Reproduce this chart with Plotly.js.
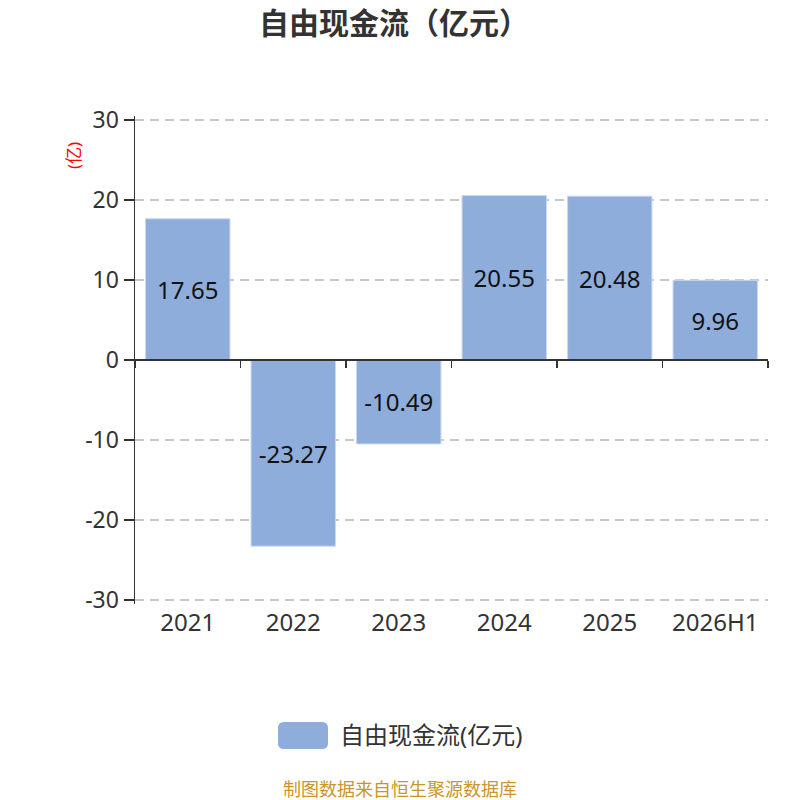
<!DOCTYPE html>
<html>
<head>
<meta charset="utf-8">
<script src="https://cdn.plot.ly/plotly-3.0.1.min.js"></script>
<style>
  html, body { margin: 0; padding: 0; background: #fff; }
  #chart { width: 800px; height: 800px; }
</style>
</head>
<body>
<div id="chart"></div>
<script>
var years = ['2021', '2022', '2023', '2024', '2025', '2026H1'];
var cashFlow = [17.65, -23.27, -10.49, 20.55, 20.48, 9.96];
var seriesName = '自由现金流(亿元)';
var yTicks = [-30, -20, -10, 0, 10, 20, 30];
var yTickText = ['-30', '-20', '-10', '0', '10', '20', '30'];

var barColor = '#8eaddb';
var font = '"Noto Sans", "Noto Sans CJK SC", sans-serif';

var bars = {
  type: 'bar',
  x: years,
  y: cashFlow,
  name: seriesName,
  marker: { color: barColor, line: { color: '#c8d8f0', width: 1 } },
  text: cashFlow.map(function (v) { return v.toFixed(2); }),
  textposition: 'inside',
  insidetextanchor: 'middle',
  textfont: { size: 24, color: '#111', family: font },
  hoverinfo: 'x+y',
  showlegend: false
};

// invisible helper so the zero-line axis (with its boundary ticks) gets drawn
var zeroAxis = {
  type: 'scatter',
  x: years,
  y: years.map(function () { return null; }),
  xaxis: 'x2',
  yaxis: 'y',
  hoverinfo: 'skip',
  showlegend: false
};

var layout = {
  width: 800,
  height: 800,
  margin: { l: 135, r: 32, t: 116, b: 196 },
  paper_bgcolor: '#fff',
  plot_bgcolor: '#fff',
  font: { family: font, color: '#333' },
  bargap: 0.2,
  title: {
    text: '<b>自由现金流（亿元）</b>',
    font: { size: 30, color: '#333', family: font },
    x: 0.4925,
    xanchor: 'center',
    y: 0.971,
    yanchor: 'middle'
  },
  xaxis: {
    type: 'category',
    showline: false,
    ticks: '',
    showgrid: false,
    zeroline: false,
    tickfont: { size: 24, color: '#333' },
    ticklabelstandoff: 2
  },
  xaxis2: {
    type: 'category',
    overlaying: 'x',
    anchor: 'free',
    position: 0.5,
    showline: true,
    linecolor: '#333',
    linewidth: 2,
    ticks: 'outside',
    ticklen: 7,
    tickwidth: 1.5,
    tickcolor: '#333',
    tickson: 'boundaries',
    showticklabels: false,
    showgrid: false,
    zeroline: false,
    range: [-0.5, 5.5]
  },
  yaxis: {
    range: [-30.5, 30.5],
    tickvals: yTicks,
    ticktext: yTickText,
    showline: true,
    linecolor: '#333',
    linewidth: 1.5,
    ticks: 'outside',
    ticklen: 10,
    tickwidth: 1.5,
    tickcolor: '#333',
    showgrid: true,
    gridcolor: '#c8c8c8',
    griddash: '9px,6px',
    gridwidth: 1.6,
    zeroline: false,
    tickfont: { size: 23, color: '#333' }
  },
  shapes: [
    {
      type: 'path',
      xref: 'paper', yref: 'paper',
      path: 'M 0.2354 -0.2418 L 0.2954 -0.2418 Q 0.3049 -0.2418 0.3049 -0.2541 L 0.3049 -0.2848 Q 0.3049 -0.2971 0.2954 -0.2971 L 0.2354 -0.2971 Q 0.2259 -0.2971 0.2259 -0.2848 L 0.2259 -0.2541 Q 0.2259 -0.2418 0.2354 -0.2418 Z',
      fillcolor: barColor,
      line: { width: 0 }
    }
  ],
  annotations: [
    {
      text: '(亿)',
      textangle: -90,
      xref: 'paper', yref: 'paper',
      x: -0.098, y: 0.92,
      xanchor: 'center', yanchor: 'middle',
      showarrow: false,
      font: { size: 17, color: 'red' }
    },
    {
      text: seriesName,
      xref: 'paper', yref: 'paper',
      x: 0.3207, y: -0.2684,
      xanchor: 'left', yanchor: 'middle',
      showarrow: false,
      font: { size: 24, color: '#333' }
    },
    {
      text: '制图数据来自恒生聚源数据库',
      xref: 'paper', yref: 'paper',
      x: 0.4186, y: -0.3791,
      xanchor: 'center', yanchor: 'middle',
      showarrow: false,
      font: { size: 18, color: '#c8962a' }
    }
  ]
};

Plotly.newPlot('chart', [bars, zeroAxis], layout, { displayModeBar: false, staticPlot: true });
</script>
</body>
</html>
